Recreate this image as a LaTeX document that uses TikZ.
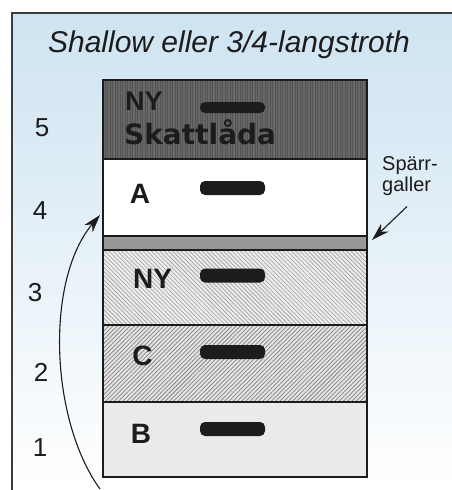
\documentclass[tikz,border=0pt]{standalone}
\usepackage{fontspec}
\setmainfont{Liberation Sans}
\newfontfamily\widefont{DejaVu Sans}
\usetikzlibrary{arrows.meta,patterns.meta,positioning}

\definecolor{skyblue}{RGB}{206,227,241}
\definecolor{inkgray}{RGB}{28,28,28}
\definecolor{framegray}{RGB}{60,60,60}
\definecolor{darkbox}{RGB}{104,104,104}
\definecolor{stripe}{RGB}{84,84,84}
\definecolor{gallergray}{RGB}{152,152,152}
\definecolor{hatchgray}{RGB}{170,170,170}
\definecolor{dotgray}{RGB}{200,200,200}

\tikzset{
  layer/.style={draw=inkgray, line width=1.3pt, minimum width=264pt,
    inner sep=0pt, outer sep=0pt},
  handle/.style={fill=inkgray, rounded corners=5pt, minimum width=65pt,
    minimum height=14pt, inner sep=0pt},
  lbl/.style={font=\fontsize{28}{30}\selectfont\bfseries, text=inkgray,
    inner sep=0pt},
  num/.style={font=\fontsize{26}{28}\selectfont, text=inkgray, inner sep=0pt},
  pointer/.style={-{Stealth[length=18pt,width=11pt]}, line width=1.1pt,
    draw=inkgray}
}

\begin{document}
\begin{tikzpicture}[x=1pt, y=-1pt]
\useasboundingbox (0,0) rectangle (452,490);

% Backdrop
\fill[top color=skyblue, bottom color=white] (12,13) rectangle (452,490);
\draw[line width=1.4pt, framegray] (12,490) -- (12,13) -- (452,13);

% Title
\node[font=\fontsize{30}{32}\selectfont\itshape, text=inkgray, anchor=base]
  (title) at (229,52) {Shallow eller 3/4-langstroth};

% Boxes, top to bottom
\node[layer, minimum height=79pt, preaction={fill=darkbox},
  pattern={Lines[angle=90,distance=2.5pt,line width=0.8pt]},
  pattern color=stripe] (skatt) at (235,119.5) {};
\node[layer, minimum height=77pt, fill=white, below=0pt of skatt] (boxA) {};
\node[layer, minimum height=14pt, fill=gallergray, below=0pt of boxA] (galler) {};
\node[layer, minimum height=75pt, preaction={fill=white!93!black},
  pattern={Lines[angle=-45,distance=3pt,line width=0.8pt]},
  pattern color=hatchgray, below=0pt of galler] (boxNY) {};
\node[layer, minimum height=77pt, preaction={fill=white!90!black},
  pattern={Lines[angle=45,distance=3pt,line width=0.9pt]},
  pattern color=hatchgray!85!black, below=0pt of boxNY] (boxC) {};
\node[layer, minimum height=75pt, preaction={fill=white!96!black},
  pattern={Dots[distance=2pt,radius=0.6pt]},
  pattern color=dotgray, below=0pt of boxC] (boxB) {};

% Handles
\node[handle, minimum height=11pt] (hSkatt) at (232.5,107.5) {};
\node[handle] (hA) at (232.5,188) {};
\node[handle] (hNY) at (232.5,275.5) {};
\node[handle] (hC) at (232.5,352) {};
\node[handle] (hB) at (232.5,429) {};

% Box labels
\node[lbl, font=\fontsize{27}{29}\selectfont\bfseries, anchor=base west]
  (nyTop) at (125,110) {NY};
\node[lbl, font=\widefont\fontsize{28}{30}\selectfont\bfseries, anchor=base west]
  (skattLbl) at (124,144) {Skattlåda};
\node[lbl] (labA) at (140,193.5) {A};
\node[lbl] (labNY) at (152.5,279) {NY};
\node[lbl] (labC) at (142.5,356) {C};
\node[lbl] (labB) at (141,434) {B};

% Level numbers
\node[num] (n5) at (42,128) {5};
\node[num] (n4) at (40,211) {4};
\node[num] (n3) at (35,293) {3};
\node[num] (n2) at (41,372) {2};
\node[num] (n1) at (40,448) {1};

% Queen excluder
\node[font=\fontsize{20}{21}\selectfont, align=left, anchor=north west,
  inner sep=0pt, text=inkgray] (sparr) at (382,156) {Spärr-\\galler};
\draw[pointer] ([xshift=-3pt,yshift=-11pt]sparr.south)
  -- ([xshift=5pt,yshift=3pt]galler.east);

% Moving box B up
\coordinate (base) at (100,489);
\coordinate (lift) at (100,215);
\draw[pointer] (base) .. controls (50,420) and (45,280) .. (lift);

\end{tikzpicture}
\end{document}
